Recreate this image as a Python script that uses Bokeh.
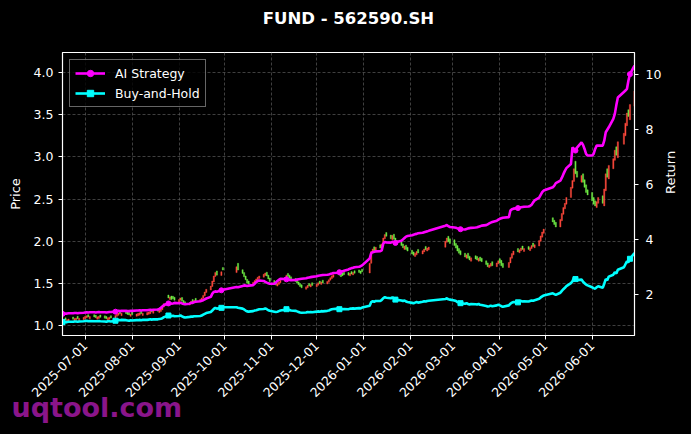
import math
import pandas as pd
from bokeh.plotting import figure
from bokeh.models import (ColumnDataSource, LinearAxis, Range1d, FixedTicker,
                          PrintfTickFormatter, DatetimeTickFormatter, Legend,
                          LegendItem, Title, CDSView, IndexFilter)
from bokeh.embed import file_html
from bokeh.resources import INLINE

# ---------------- data ----------------
title_text = "FUND - 562590.SH"
watermark_text = "uqtool.com"
first_day, last_day = "2025-06-16", "2026-06-29"
holidays = ["2025-10-01", "2025-10-02", "2025-10-03", "2025-10-06", "2025-10-07",
            "2025-10-08", "2026-01-01", "2026-01-02", "2026-02-16", "2026-02-17",
            "2026-02-18", "2026-02-19", "2026-02-20", "2026-02-23", "2026-04-06",
            "2026-05-01", "2026-05-04", "2026-05-05", "2026-06-19"]

x_tick_labels = ["2025-07-01", "2025-08-01", "2025-09-01", "2025-10-01", "2025-11-01",
                 "2025-12-01", "2026-01-01", "2026-02-01", "2026-03-01", "2026-04-01",
                 "2026-05-01", "2026-06-01"]
price_ticks = [1.0, 1.5, 2.0, 2.5, 3.0, 3.5, 4.0]
return_ticks = [2, 4, 6, 8, 10]

close = [
    1.070, 1.076, 1.068, 1.073, 1.080,
    1.078, 1.086, 1.092, 1.082, 1.088,
    1.100, 1.112, 1.120, 1.104, 1.110,
    1.104, 1.096, 1.106, 1.112, 1.100,
    1.090, 1.084, 1.096, 1.102, 1.092,
    1.122, 1.140, 1.152, 1.144, 1.150,
    1.144, 1.134, 1.128, 1.140, 1.134,
    1.140, 1.148, 1.154, 1.144, 1.150,
    1.156, 1.164, 1.172, 1.166, 1.176,
    1.172, 1.184, 1.200, 1.222, 1.262,
    1.330, 1.342, 1.310, 1.320, 1.302,
    1.310, 1.330, 1.292, 1.262, 1.250,
    1.272, 1.290, 1.282, 1.300, 1.292,
    1.312, 1.330, 1.360, 1.400, 1.432,
    1.470, 1.530, 1.590, 1.630, 1.600,
    1.640, 1.660,
    1.700, 1.660,
    1.620, 1.580, 1.545, 1.505, 1.495,
    1.515, 1.535, 1.555, 1.575, 1.590,
    1.610, 1.625, 1.590, 1.555, 1.525,
    1.500, 1.482, 1.500, 1.520, 1.540,
    1.570, 1.600, 1.585, 1.562, 1.545,
    1.525, 1.505, 1.485, 1.465, 1.450,
    1.462, 1.480, 1.470, 1.490, 1.478,
    1.492, 1.510, 1.500, 1.520, 1.508,
    1.525, 1.545, 1.570, 1.592, 1.605,
    1.615, 1.600, 1.582, 1.594, 1.605,
    1.600, 1.622, 1.612, 1.632, 1.622,
    1.632, 1.618, 1.640,
    1.740, 1.880, 1.910, 1.890, 1.930,
    1.920, 1.970, 2.040, 2.080, 2.060,
    2.030, 2.070, 2.025, 1.985, 1.965,
    1.950, 1.925, 1.945, 1.905, 1.885,
    1.850, 1.835, 1.860, 1.880, 1.862,
    1.890, 1.910, 1.900, 1.920, 1.932,
    2.000, 2.040, 1.995, 1.975,
    1.950, 1.920, 1.885, 1.860, 1.840,
    1.815, 1.840, 1.800, 1.780, 1.805,
    1.790, 1.780, 1.800, 1.770, 1.760,
    1.725, 1.700, 1.720, 1.740, 1.712,
    1.745, 1.770, 1.745, 1.712, 1.690,
    1.750, 1.810, 1.855, 1.885,
    1.875, 1.900, 1.922, 1.905, 1.915,
    1.905, 1.925, 1.950, 1.940, 1.960,
    2.010, 2.065, 2.110, 2.145,
    2.230, 2.200, 2.170,
    2.260, 2.330, 2.400, 2.450, 2.520,
    2.640, 2.720, 2.860, 2.800, 2.760,
    2.780, 2.700, 2.640, 2.580, 2.550,
    2.480, 2.440, 2.420, 2.470, 2.520,
    2.450, 2.620, 2.800, 2.760, 2.900,
    2.980, 3.080, 3.020, 3.180,
    3.280, 3.400, 3.520, 3.480, 3.620,
    3.780,
]

open_ = [
    1.048, 1.052, 1.094, 1.050, 1.056,
    1.104, 1.060, 1.066, 1.112, 1.062,
    1.072, 1.084, 1.094, 1.132, 1.082,
    1.132, 1.124, 1.078, 1.086, 1.128,
    1.118, 1.110, 1.068, 1.076, 1.120,
    1.090, 1.112, 1.124, 1.172, 1.120,
    1.172, 1.162, 1.156, 1.112, 1.162,
    1.112, 1.120, 1.126, 1.172, 1.122,
    1.128, 1.136, 1.144, 1.194, 1.148,
    1.200, 1.156, 1.170, 1.190, 1.222,
    1.365, 1.310, 1.352, 1.350, 1.338,
    1.280, 1.302, 1.335, 1.300, 1.285,
    1.245, 1.262, 1.312, 1.272, 1.325,
    1.285, 1.302, 1.325, 1.355, 1.395,
    1.425, 1.465, 1.520, 1.585, 1.650,
    1.595, 1.690,
    1.630, 1.740,
    1.665, 1.630, 1.590, 1.550, 1.530,
    1.480, 1.500, 1.520, 1.545, 1.560,
    1.575, 1.595, 1.635, 1.600, 1.565,
    1.535, 1.515, 1.470, 1.490, 1.510,
    1.535, 1.565, 1.620, 1.600, 1.580,
    1.560, 1.540, 1.520, 1.500, 1.485,
    1.432, 1.450, 1.500, 1.460, 1.510,
    1.462, 1.480, 1.530, 1.490, 1.540,
    1.495, 1.515, 1.540, 1.560, 1.575,
    1.645, 1.632, 1.614, 1.625, 1.635,
    1.630, 1.592, 1.642, 1.602, 1.652,
    1.662, 1.650, 1.670,
    1.625, 1.740, 1.870, 1.935, 1.885,
    1.960, 1.915, 1.975, 2.030, 2.105,
    2.075, 2.020, 2.085, 2.040, 2.010,
    1.995, 1.970, 1.905, 1.955, 1.930,
    1.895, 1.875, 1.820, 1.840, 1.905,
    1.850, 1.875, 1.940, 1.885, 1.900,
    1.930, 1.990, 2.060, 2.030,
    2.020, 1.975, 1.950, 1.915, 1.890,
    1.860, 1.800, 1.860, 1.825, 1.765,
    1.830, 1.820, 1.765, 1.815, 1.800,
    1.770, 1.745, 1.690, 1.705, 1.760,
    1.700, 1.735, 1.795, 1.775, 1.740,
    1.690, 1.745, 1.800, 1.840,
    1.915, 1.865, 1.890, 1.945, 1.880,
    1.940, 1.890, 1.915, 1.980, 1.925,
    1.945, 2.000, 2.050, 2.095,
    2.280, 2.250, 2.225,
    2.170, 2.245, 2.320, 2.385, 2.440,
    2.520, 2.630, 2.710, 2.950, 2.830,
    2.700, 2.800, 2.730, 2.670, 2.610,
    2.580, 2.520, 2.480, 2.400, 2.450,
    2.540, 2.420, 2.600, 2.860, 2.740,
    2.860, 2.960, 3.120, 2.990,
    3.150, 3.250, 3.370, 3.560, 3.440,
    3.600,
]

ai_strategy = [
    1.28, 1.28, 1.29, 1.29, 1.30,
    1.30, 1.31, 1.31, 1.30, 1.31,
    1.32, 1.33, 1.34, 1.33, 1.34,
    1.34, 1.33, 1.34, 1.35, 1.34,
    1.34, 1.33, 1.34, 1.35, 1.35,
    1.36, 1.38, 1.39, 1.38, 1.39,
    1.39, 1.38, 1.38, 1.39, 1.39,
    1.40, 1.40, 1.41, 1.40, 1.41,
    1.41, 1.42, 1.43, 1.42, 1.43,
    1.44, 1.46, 1.50, 1.55, 1.60,
    1.66, 1.68, 1.65, 1.66, 1.68,
    1.67, 1.69, 1.66, 1.64, 1.63,
    1.65, 1.68, 1.68, 1.71, 1.72,
    1.74, 1.76, 1.78, 1.81, 1.84,
    1.90, 2.02, 2.08, 2.10, 2.09,
    2.14, 2.16,
    2.26, 2.25,
    2.30, 2.32, 2.31, 2.30, 2.31,
    2.33, 2.38, 2.44, 2.48, 2.50,
    2.48, 2.45, 2.42, 2.40, 2.38,
    2.38, 2.42, 2.48, 2.52, 2.56,
    2.55, 2.54, 2.53, 2.52, 2.51,
    2.52, 2.53, 2.54, 2.55, 2.56,
    2.58, 2.60, 2.61, 2.62, 2.63,
    2.65, 2.67, 2.68, 2.69, 2.70,
    2.71, 2.72, 2.74, 2.75, 2.77,
    2.78, 2.80, 2.82, 2.83, 2.85,
    2.90, 2.93, 2.95, 2.96, 2.98,
    3.00, 3.02, 3.05,
    3.30, 3.50, 3.53, 3.55, 3.56,
    3.57, 3.60, 3.85, 3.90, 3.89,
    3.88, 3.91, 3.90, 3.87, 3.90,
    3.95, 4.00, 4.05, 4.10, 4.12,
    4.15, 4.17, 4.19, 4.20, 4.22,
    4.24, 4.26, 4.28, 4.29, 4.31,
    4.50, 4.52, 4.48, 4.45,
    4.43, 4.42, 4.40, 4.38, 4.37,
    4.36, 4.38, 4.40, 4.41, 4.42,
    4.43, 4.44, 4.46, 4.48, 4.50,
    4.52, 4.55, 4.58, 4.61, 4.63,
    4.68, 4.72, 4.75, 4.77, 4.79,
    4.81, 5.05, 5.10, 5.12,
    5.14, 5.16, 5.17, 5.18, 5.19,
    5.20, 5.22, 5.26, 5.35, 5.42,
    5.52, 5.62, 5.72, 5.78,
    5.90, 5.96, 6.05,
    6.14, 6.25, 6.38, 6.50, 6.60,
    6.75, 7.36, 7.30, 7.24, 7.35,
    7.54, 7.45, 7.30, 7.12, 7.06,
    7.06, 7.12, 7.30, 7.42, 7.42,
    7.42, 7.60, 7.91, 8.00, 8.09,
    8.40, 8.58, 8.90, 9.18,
    9.38, 9.43, 9.49, 9.80, 10.03,
    10.34,
]

buy_and_hold = [
    0.98, 0.99, 0.98, 0.98, 0.99,
    0.99, 1.00, 1.00, 0.99, 1.00,
    1.01, 1.02, 1.03, 1.01, 1.02,
    1.01, 1.01, 1.01, 1.02, 1.01,
    1.00, 0.99, 1.01, 1.01, 1.00,
    1.03, 1.05, 1.06, 1.05, 1.06,
    1.05, 1.04, 1.03, 1.05, 1.04,
    1.05, 1.05, 1.06, 1.05, 1.06,
    1.06, 1.07, 1.08, 1.07, 1.08,
    1.08, 1.09, 1.10, 1.12, 1.16,
    1.22, 1.23, 1.20, 1.21, 1.19,
    1.20, 1.22, 1.19, 1.16, 1.15,
    1.17, 1.18, 1.18, 1.19, 1.19,
    1.20, 1.22, 1.25, 1.28, 1.31,
    1.35, 1.40, 1.46, 1.50, 1.47,
    1.50, 1.52,
    1.52, 1.50,
    1.47, 1.44, 1.40, 1.37, 1.36,
    1.38, 1.40, 1.41, 1.43, 1.45,
    1.46, 1.48, 1.45, 1.41, 1.39,
    1.36, 1.35, 1.36, 1.38, 1.40,
    1.43, 1.45, 1.44, 1.42, 1.40,
    1.39, 1.37, 1.35, 1.33, 1.32,
    1.33, 1.35, 1.34, 1.35, 1.34,
    1.36, 1.37, 1.36, 1.38, 1.37,
    1.39, 1.40, 1.43, 1.45, 1.46,
    1.47, 1.45, 1.44, 1.45, 1.46,
    1.45, 1.47, 1.47, 1.48, 1.47,
    1.49, 1.48, 1.51,
    1.58, 1.71, 1.74, 1.72, 1.75,
    1.75, 1.79, 1.85, 1.89, 1.87,
    1.85, 1.88, 1.84, 1.80, 1.79,
    1.77, 1.75, 1.77, 1.73, 1.71,
    1.68, 1.67, 1.69, 1.71, 1.69,
    1.72, 1.74, 1.73, 1.75, 1.76,
    1.82, 1.85, 1.81, 1.80,
    1.77, 1.75, 1.71, 1.69, 1.67,
    1.65, 1.67, 1.64, 1.62, 1.64,
    1.63, 1.62, 1.64, 1.61, 1.60,
    1.57, 1.55, 1.56, 1.58, 1.56,
    1.59, 1.61, 1.59, 1.56, 1.54,
    1.59, 1.65, 1.69, 1.71,
    1.70, 1.73, 1.75, 1.73, 1.74,
    1.73, 1.75, 1.77, 1.76, 1.78,
    1.83, 1.88, 1.92, 1.95,
    2.03, 2.00, 1.97,
    2.05, 2.12, 2.18, 2.23, 2.29,
    2.40, 2.47, 2.60, 2.55, 2.51,
    2.53, 2.45, 2.40, 2.35, 2.32,
    2.25, 2.22, 2.20, 2.25, 2.29,
    2.23, 2.38, 2.55, 2.51, 2.64,
    2.71, 2.80, 2.75, 2.89,
    2.98, 3.09, 3.20, 3.16, 3.29,
    3.50,
]

# ---------------- build ----------------
dates = pd.bdate_range(first_day, last_day).drop(pd.to_datetime(holidays))
n = len(dates)
assert n == len(close) == len(open_) == len(ai_strategy) == len(buy_and_hold)

UP, DOWN = "#ff4a3d", "#6fea45"
src = ColumnDataSource(dict(
    date=dates,
    top=[max(o, c) for o, c in zip(open_, close)],
    bottom=[min(o, c) for o, c in zip(open_, close)],
    color=[UP if c >= o else DOWN for o, c in zip(open_, close)],
    ai=ai_strategy,
    bh=buy_and_hold,
))

FONT = "DejaVu Sans"
p = figure(width=691, height=434, x_axis_type="datetime",
           x_range=Range1d(dates[0], dates[-1]),
           y_range=Range1d(0.885, 4.237),
           output_backend="svg", toolbar_location=None,
           min_border_left=62, min_border_right=57,
           min_border_top=52, min_border_bottom=99,
           background_fill_color="black", border_fill_color="black",
           outline_line_color="white", outline_line_width=1.2)
p.extra_y_ranges = {"ret": Range1d(0.49, 10.82)}
p.title.text = ""

# spacer next to the frame, then the real title further up
spacer = Title(text=" ", text_font=FONT, text_font_size="10px", standoff=12,
               text_color="black")
p.add_layout(spacer, "above")
main_title = Title(text=title_text, align="center", vertical_align="bottom",
                   standoff=0, text_font=FONT, text_font_style="bold",
                   text_font_size="16.5px", text_color="white")
p.add_layout(main_title, "above")

left_axis = p.left[0]
left_axis.ticker = FixedTicker(ticks=price_ticks)
left_axis.formatter = PrintfTickFormatter(format="%.1f")
left_axis.axis_label = "Price"

right_axis = LinearAxis(y_range_name="ret", ticker=FixedTicker(ticks=return_ticks),
                        axis_label="Return")
p.add_layout(right_axis, "right")

x_axis = p.below[0]
tick_ms = [pd.Timestamp(t).value // 10**6 for t in x_tick_labels]
x_axis.ticker = FixedTicker(ticks=tick_ms)
fmt = "%Y-%m-%d"
x_axis.formatter = DatetimeTickFormatter(days=fmt, months=fmt, years=fmt, hours=fmt,
                                         hourmin=fmt, minutes=fmt, minsec=fmt,
                                         seconds=fmt, milliseconds=fmt, microseconds=fmt)
x_axis.major_label_orientation = math.pi / 4

for ax in (left_axis, right_axis, x_axis):
    ax.axis_line_color = "white"
    ax.major_tick_line_color = "white"
    ax.minor_tick_line_color = None
    ax.major_tick_out = 4
    ax.major_tick_in = 0
    ax.major_label_text_color = "white"
    ax.major_label_text_font = FONT
    ax.major_label_text_font_size = "12.5px"
    ax.axis_label_text_color = "white"
    ax.axis_label_text_font = FONT
    ax.axis_label_text_font_size = "13px"
    ax.axis_label_text_font_style = "normal"
left_axis.major_label_standoff = 5
left_axis.axis_label_standoff = 8
right_axis.major_label_standoff = 7
right_axis.axis_label_standoff = 6
right_axis.axis_label_orientation = math.pi / 2
x_axis.major_label_standoff = 4

for g in (p.xgrid[0], p.ygrid[0]):
    g.grid_line_color = "#5a5a5a"
    g.grid_line_dash = "3 2"
    g.grid_line_width = 0.7

day_ms = 86400000
p.vbar(x="date", width=0.8 * day_ms, top="top", bottom="bottom",
       fill_color="color", line_color="color", line_width=0.4, source=src)

mark_idx = list(range(0, n, 25))
view = CDSView(filter=IndexFilter(mark_idx))
l1 = p.line("date", "ai", source=src, y_range_name="ret",
            line_color="#ff00ff", line_width=2.6)
m1 = p.scatter("date", "ai", source=src, view=view, y_range_name="ret",
               marker="circle", size=5, fill_color="#ff00ff", line_color="#ff00ff")
l2 = p.line("date", "bh", source=src, y_range_name="ret",
            line_color="#00ffff", line_width=2.6)
m2 = p.scatter("date", "bh", source=src, view=view, y_range_name="ret",
               marker="square", size=5, fill_color="#00ffff", line_color="#00ffff")

legend = Legend(items=[LegendItem(label="AI Strategy", renderers=[l1, m1]),
                       LegendItem(label="Buy-and-Hold", renderers=[l2, m2])],
                location="top_left")
legend.margin = 7
legend.padding = 5
legend.spacing = 4
legend.glyph_width = 30
legend.glyph_height = 16
legend.label_standoff = 10
legend.label_text_color = "white"
legend.label_text_font = FONT
legend.label_text_font_size = "12.5px"
legend.background_fill_color = "black"
legend.background_fill_alpha = 0.8
legend.border_line_color = "#cccccc"
legend.border_line_width = 1
p.add_layout(legend)

# watermark, placed in the bottom panel under the date labels
watermark = Title(text=watermark_text, align="left", vertical_align="top",
                  offset=-51, text_font=FONT, text_font_style="bold",
                  text_font_size="27px", text_color="#8a158a")
try:
    watermark.standoff = -26
except Exception:
    watermark.standoff = 0
p.add_layout(watermark, "below")

html = file_html(p, INLINE, title=title_text)
html = html.replace("</head>", "<style>html,body{background:#000000;}</style></head>", 1)
open("out.html", "w").write(html)
